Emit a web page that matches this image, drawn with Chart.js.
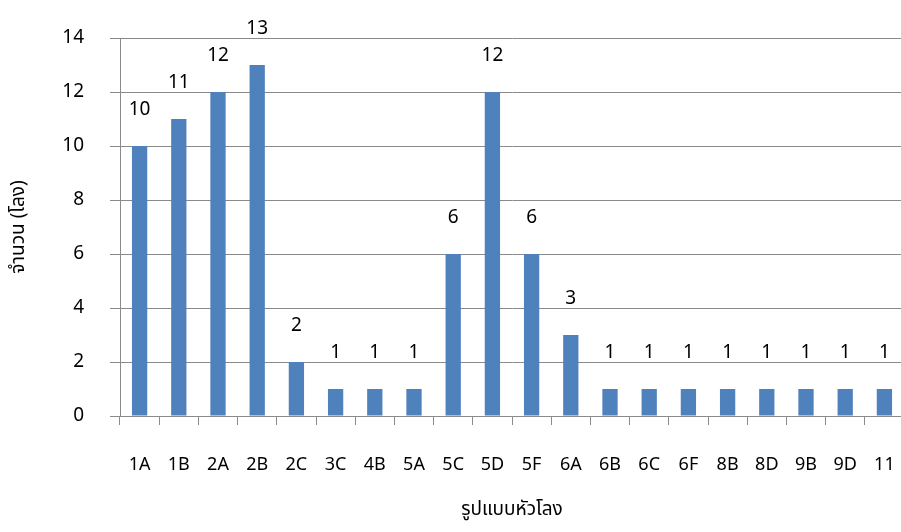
<!DOCTYPE html>
<html>
<head>
<meta charset="utf-8">
<script src="https://cdn.jsdelivr.net/npm/chart.js@4.4.1/dist/chart.umd.min.js"></script>
<style>
    html, body { margin: 0; padding: 0; background: #fff; overflow: hidden; }
    #wrap { width: 905px; height: 532px; }
</style>
</head>
<body>
<div id="wrap"><canvas id="barChart"></canvas></div>
<script>
const categories = ['1A', '1B', '2A', '2B', '2C', '3C', '4B', '5A', '5C', '5D',
    '5F', '6A', '6B', '6C', '6F', '8B', '8D', '9B', '9D', '11'];
const counts = [10, 11, 12, 13, 2, 1, 1, 1, 6, 12, 6, 3, 1, 1, 1, 1, 1, 1, 1, 1];
const yTicks = [0, 2, 4, 6, 8, 10, 12, 14];

const fontFamily = "'Noto Sans', 'Noto Sans Thai', sans-serif";
const gridColor = '#8a8a8a';

// values written above each bar
const valueLabels = {
    id: 'valueLabels',
    afterDatasetsDraw(chart) {
        const ctx = chart.ctx;
        const meta = chart.getDatasetMeta(0);
        ctx.save();
        ctx.font = '19px ' + fontFamily;
        ctx.fillStyle = '#000';
        ctx.textAlign = 'center';
        ctx.textBaseline = 'bottom';
        meta.data.forEach((bar, i) => {
            ctx.fillText(String(counts[i]), bar.x, bar.y - 27);
        });
        ctx.restore();
    }
};

let barCtx = document.getElementById('barChart').getContext('2d');
let barChart = new Chart(barCtx, {
    type: 'bar',
    data: {
        labels: categories,
        datasets: [{
            label: 'จำนวน',
            data: counts,
            backgroundColor: '#4f81bd',
            borderWidth: 0,
            barPercentage: 0.39,
            categoryPercentage: 1
        }]
    },
    options: {
        responsive: true,
        maintainAspectRatio: false,
        animation: false,
        layout: {
            padding: { top: 38, right: 1, bottom: 0, left: 0 }
        },
        plugins: {
            legend: { display: false },
            tooltip: { enabled: false }
        },
        scales: {
            x: {
                offset: true,
                grid: {
                    offset: true,
                    drawOnChartArea: false,
                    color: gridColor,
                    tickLength: 9
                },
                border: { color: gridColor },
                ticks: {
                    color: '#000',
                    padding: 29,
                    maxRotation: 0,
                    autoSkip: false,
                    font: { family: fontFamily, size: 18 }
                },
                title: {
                    display: true,
                    text: 'รูปแบบหัวโลง',
                    color: '#000',
                    padding: { top: 0, bottom: 11 },
                    font: { family: fontFamily, size: 19 }
                },
                afterFit: function (scale) {
                    scale.height = 116;
                    scale.paddingLeft = 0;
                    scale.paddingRight = 0;
                }
            },
            y: {
                min: 0,
                max: 14,
                afterBuildTicks: function (scale) {
                    scale.ticks = yTicks.map(v => ({ value: v }));
                },
                grid: {
                    color: gridColor,
                    tickLength: 10
                },
                border: { color: gridColor },
                ticks: {
                    color: '#000',
                    padding: 26,
                    font: { family: fontFamily, size: 19 }
                },
                title: {
                    display: true,
                    text: 'จำนวน (โลง)',
                    color: '#000',
                    padding: { top: 7, bottom: 0 },
                    font: { family: fontFamily, size: 19 }
                },
                afterFit: function (scale) {
                    scale.width = 120;
                    scale.paddingTop = 0;
                    scale.paddingBottom = 0;
                }
            }
        }
    },
    plugins: [valueLabels]
});
</script>
</body>
</html>
